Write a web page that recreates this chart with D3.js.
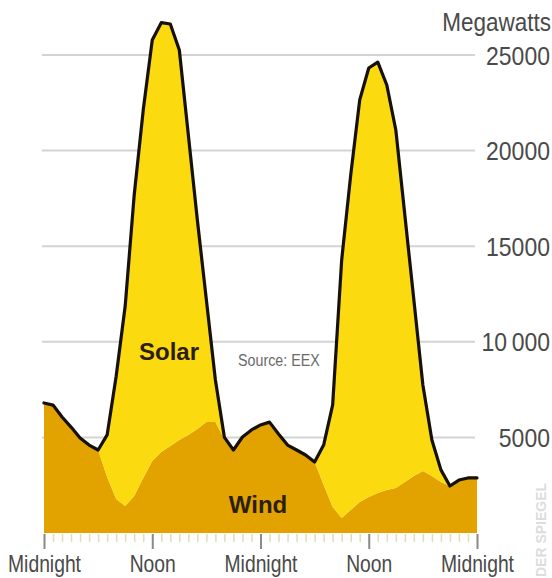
<!DOCTYPE html>
<html>
<head>
<meta charset="utf-8">
<script src="https://cdn.jsdelivr.net/npm/d3@7"></script>
<style>
  html, body { margin: 0; padding: 0; background: #fff; }
  svg { display: block; }
</style>
</head>
<body>
<svg id="chart" width="552" height="578"></svg>
<script>
// Hourly feed-in over two days (hour 0 = first midnight)
const hours = [0,1,2,3,4,5,6,7,8,9,10,11,12,13,14,15,16,17,18,19,20,21,22,23,24,
               25,26,27,28,29,30,31,32,33,34,35,36,37,38,39,40,41,42,43,44,45,46,47,48];
// Wind generation, megawatts
const windMW = [6800,6690,6070,5540,4970,4600,4340,2930,1780,1410,1940,2880,3770,4240,4550,4860,
                5130,5440,5810,5810,4900,4340,5020,5390,5650,5800,5180,4600,4340,4080,3710,2510,
                1360,780,1200,1620,1880,2090,2250,2350,2670,2980,3240,2980,2670,2460,2770,2880,2880];
// Solar generation, megawatts
const solarMW = [0,0,0,0,0,0,0,2200,6420,10460,15740,19240,22010,22450,22070,20400,
                 15690,10930,6380,2190,100,0,0,0,0,0,0,0,0,0,0,2090,
                 5340,13500,17520,21030,22440,22540,21180,18730,13960,9210,4500,1880,630,0,0,0,0];

const majorTicks = [0, 12, 24, 36, 48];
const xTickLabels = ["Midnight", "Noon", "Midnight", "Noon", "Midnight"];
const yTicks = [5000, 10000, 15000, 20000, 25000];
const yTickLabels = ["5000", "10\u2009000", "15000", "20000", "25000"];

const svg = d3.select("#chart");
const x = d3.scaleLinear().domain([0, 48]).range([44, 477]);
const y = d3.scaleLinear().domain([0, 25000]).range([533, 55]);

const sans = "'Liberation Sans', Arial, sans-serif";
const squeeze = 0.84;      // condensed look for the time labels
const squeezeY = 0.92;     // value labels and unit

// Horizontal gridlines
svg.append("g")
  .selectAll("line")
  .data(yTicks)
  .join("line")
  .attr("x1", 42).attr("x2", 475)
  .attr("y1", d => y(d)).attr("y2", d => y(d))
  .attr("stroke", "#d3d3d3")
  .attr("stroke-width", 2);

// Stacked areas: wind at the bottom, solar on top
const rows = hours.map((h, i) => ({ hour: h, wind: windMW[i], solar: solarMW[i] }));
const stack = d3.stack().keys(["wind", "solar"]);
const layers = stack(rows);
const fills = { wind: "#e2a200", solar: "#fcda10" };

const area = d3.area()
  .x(d => x(d.data.hour))
  .y0(d => y(d[0]))
  .y1(d => y(d[1]));

svg.append("g")
  .selectAll("path")
  .data(layers)
  .join("path")
  .attr("d", area)
  .attr("fill", d => fills[d.key]);

// Total output outline
const totalLine = d3.line()
  .x(d => x(d.data.hour))
  .y(d => y(d[1]));

svg.append("path")
  .datum(layers[1])
  .attr("d", totalLine)
  .attr("fill", "none")
  .attr("stroke", "#151008")
  .attr("stroke-width", 3.2)
  .attr("stroke-linejoin", "round")
  .attr("stroke-linecap", "round");

// Hourly minor ticks
const minorAxis = d3.axisBottom(x)
  .tickValues(hours)
  .tickSize(8)
  .tickFormat("");
const gMinor = svg.append("g").attr("transform", "translate(0,534)").call(minorAxis);
gMinor.select(".domain").remove();
gMinor.selectAll(".tick line").attr("stroke", "#e4dcb4").attr("stroke-width", 1.5);

// Major ticks with time-of-day labels
const xAxis = d3.axisBottom(x)
  .tickValues(majorTicks)
  .tickSize(15)
  .tickFormat((d, i) => xTickLabels[i]);
const gx = svg.append("g").attr("transform", "translate(0,534)").call(xAxis);
gx.select(".domain").remove();
gx.selectAll(".tick line").attr("stroke", "#8a8a8a").attr("stroke-width", 2);
gx.selectAll(".tick text")
  .attr("y", 38).attr("dy", 0)
  .attr("transform", `scale(${squeeze},1)`)
  .attr("fill", "#4a4a4a")
  .style("font-family", sans)
  .style("font-size", "23px");

// Value axis on the right
const yAxis = d3.axisRight(y)
  .tickValues(yTicks)
  .tickSize(0)
  .tickFormat((d, i) => yTickLabels[i]);
const gy = svg.append("g").attr("transform", "translate(550,0)").call(yAxis);
gy.select(".domain").remove();
gy.selectAll(".tick text")
  .attr("x", 0).attr("dy", "0.36em")
  .attr("text-anchor", "end")
  .attr("transform", `scale(${squeezeY},1)`)
  .attr("fill", "#4a4a4a")
  .style("font-family", sans)
  .style("font-size", "25px");

svg.append("text")
  .attr("transform", `translate(551,31) scale(0.9,1)`)
  .attr("text-anchor", "end")
  .attr("fill", "#4a4a4a")
  .style("font-family", sans)
  .style("font-size", "25px")
  .text("Megawatts");

// Series labels
svg.append("text")
  .attr("x", 169).attr("y", 360)
  .attr("text-anchor", "middle")
  .attr("fill", "#2b1e0c")
  .style("font-family", sans)
  .style("font-weight", "bold")
  .style("font-size", "24px")
  .text("Solar");

svg.append("text")
  .attr("x", 258).attr("y", 513)
  .attr("text-anchor", "middle")
  .attr("fill", "#2b1e0c")
  .style("font-family", sans)
  .style("font-weight", "bold")
  .style("font-size", "24px")
  .text("Wind");

svg.append("text")
  .attr("transform", `translate(238,366) scale(${squeeze},1)`)
  .attr("fill", "#6a6a6a")
  .style("font-family", sans)
  .style("font-size", "17px")
  .text("Source: EEX");

// Publisher mark, running up the right edge
svg.append("text")
  .attr("transform", "translate(546,577) rotate(-90)")
  .attr("fill", "#dddddd")
  .style("font-family", sans)
  .style("font-weight", "bold")
  .style("font-size", "14px")
  .text("DER SPIEGEL");
</script>
</body>
</html>
